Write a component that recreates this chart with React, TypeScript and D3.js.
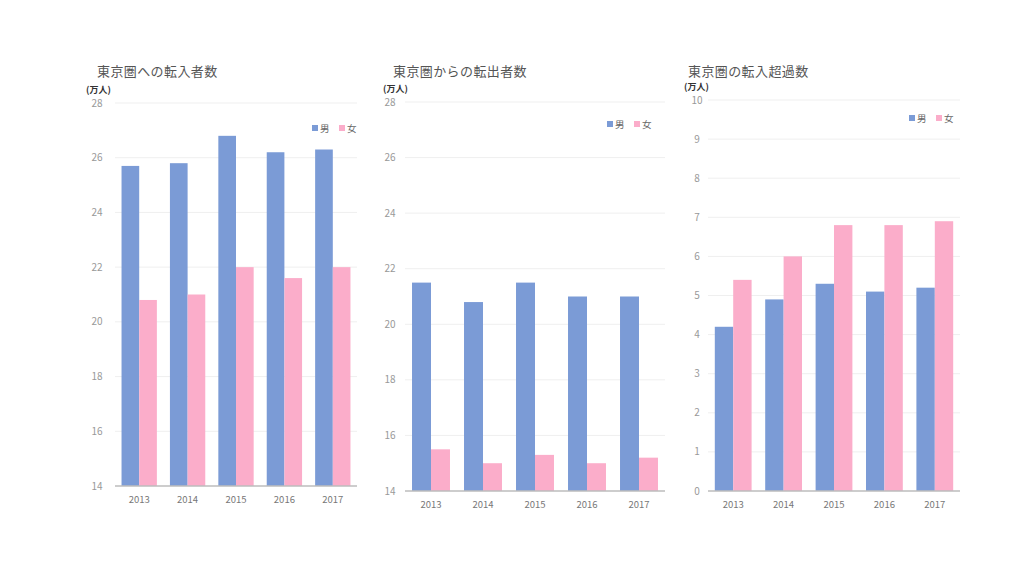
import * as d3 from "d3";

// 年
const years = ["2013", "2014", "2015", "2016", "2017"];
const seriesNames = ["男", "女"];

// 東京圏への転入者数 (万人)
const inMale = [25.7, 25.8, 26.8, 26.2, 26.3];
const inFemale = [20.8, 21.0, 22.0, 21.6, 22.0];

// 東京圏からの転出者数 (万人)
const outMale = [21.5, 20.8, 21.5, 21.0, 21.0];
const outFemale = [15.5, 15.0, 15.3, 15.0, 15.2];

// 東京圏の転入超過数 (万人)
const netMale = [4.2, 4.9, 5.3, 5.1, 5.2];
const netFemale = [5.4, 6.0, 6.8, 6.8, 6.9];

const titles = ["東京圏への転入者数", "東京圏からの転出者数", "東京圏の転入超過数"];
const yDomains = [[14, 28], [14, 28], [0, 10]];
const yTicks = [
  [14, 16, 18, 20, 22, 24, 26, 28],
  [14, 16, 18, 20, 22, 24, 26, 28],
  [0, 1, 2, 3, 4, 5, 6, 7, 8, 9, 10],
];

const colors = ["#7b9bd6", "#fbadca"];
const FONT = "'Noto Sans CJK JP', 'Noto Sans', sans-serif";

// panel layout
const panels = [
  { left: 115, right: 357, top: 103, bottom: 486, tickX: 97, unitX: 86, unitY: 93, titleX: 97, legendX: 312, legendY: 128, male: inMale, female: inFemale },
  { left: 405, right: 665, top: 102, bottom: 491, tickX: 390, unitX: 383, unitY: 92, titleX: 393, legendX: 607, legendY: 124, male: outMale, female: outFemale },
  { left: 708, right: 960, top: 100, bottom: 491, tickX: 697, unitX: 684, unitY: 90, titleX: 688, legendX: 909, legendY: 118, male: netMale, female: netFemale },
];

function Panel({ p, i }: { p: any; i: number }) {
  const y = d3.scaleLinear().domain(yDomains[i]).range([p.bottom, p.top]);
  const x0 = d3.scaleBand().domain(years).range([p.left, p.right]).paddingInner(0.27).paddingOuter(0.135);
  const x1 = d3.scaleBand().domain(seriesNames).range([0, x0.bandwidth()]);
  const vals = [p.male, p.female];

  return (
    <g>
      <text x={p.titleX} y={76} fontSize={13} fill="#555" letterSpacing={0.4} fontFamily={FONT}>
        {titles[i]}
      </text>
      <text x={p.unitX} y={p.unitY} fontSize={9} fontWeight="bold" fill="#333" fontFamily={FONT}>
        (万人)
      </text>
      {yTicks[i].map((t) => (
        <g key={t}>
          {t !== yDomains[i][0] && (
            <line x1={p.left} x2={p.right} y1={y(t)} y2={y(t)} stroke="#efefef" strokeWidth={1} />
          )}
          <text x={p.tickX} y={y(t) + 3.5} fontSize={10} fill="#999" textAnchor="middle" fontFamily={FONT}>
            {t}
          </text>
        </g>
      ))}
      {years.map((yr, j) => (
        <g key={yr}>
          {seriesNames.map((s, k) => (
            <rect
              key={s}
              x={(x0(yr) as number) + (x1(s) as number)}
              y={y(vals[k][j])}
              width={x1.bandwidth()}
              height={p.bottom - y(vals[k][j])}
              fill={colors[k]}
            />
          ))}
          <text
            x={(x0(yr) as number) + x0.bandwidth() / 2}
            y={p.bottom + 17}
            fontSize={9.5}
            fill="#777"
            textAnchor="middle"
            fontFamily={FONT}
          >
            {yr}
          </text>
        </g>
      ))}
      <line x1={p.left} x2={p.right} y1={p.bottom} y2={p.bottom} stroke="#bdbdbd" strokeWidth={1.5} />
      {seriesNames.map((s, k) => (
        <g key={s} transform={`translate(${p.legendX + k * 27},${p.legendY})`}>
          <rect x={0} y={-3} width={6} height={6} fill={colors[k]} />
          <text x={8} y={3.5} fontSize={9.5} fill="#666" fontFamily={FONT}>
            {s}
          </text>
        </g>
      ))}
    </g>
  );
}

export default function App() {
  return (
    <svg
      width={1024}
      height={576}
      style={{ position: "absolute", left: 0, top: 0, background: "#fff" }}
    >
      {panels.map((p, i) => (
        <Panel key={i} p={p} i={i} />
      ))}
    </svg>
  );
}
